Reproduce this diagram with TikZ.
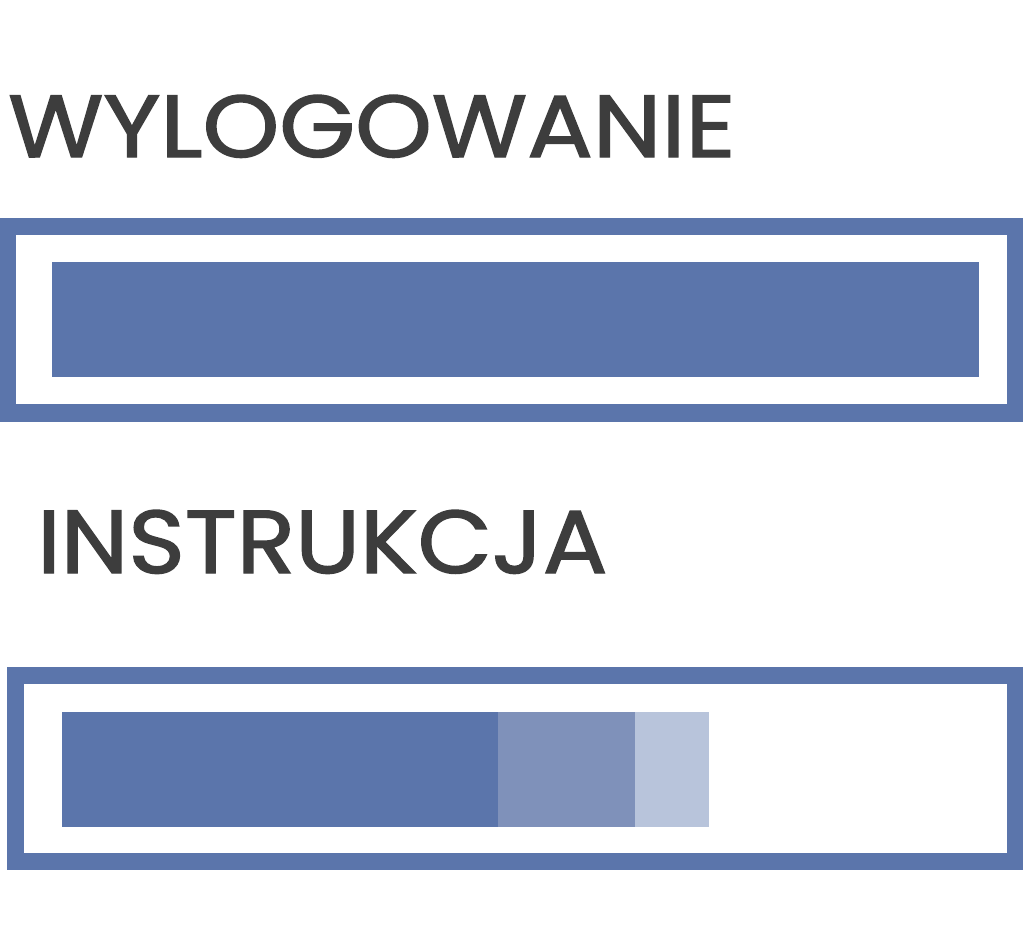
\documentclass[tikz,border=0pt]{standalone}
\usepackage{fontspec}
\setmainfont{Poppins}
\usepackage{graphicx}
\definecolor{barblue}{HTML}{5B75AB}
\definecolor{barmid}{HTML}{7F91BA}
\definecolor{barlight}{HTML}{B8C4DB}
\definecolor{txtgray}{HTML}{3D3D3D}
\begin{document}
\begin{tikzpicture}[x=1pt,y=-1pt,
  frame/.style={draw=none,fill=barblue},
  hole/.style={draw=none,fill=white},
  title/.style={inner sep=0pt,anchor=base west,text=txtgray,font=\addfontfeature{FakeBold=1.6}}]
\useasboundingbox (0,0) rectangle (1023,927);
\fill[white] (0,0) rectangle (1023,927);
% titles
\node[title] (t1) at (8,157) {\resizebox{727pt}{62pt}{WYLOGOWANIE}};
\node[title] (t2) at (37,573) {\resizebox{570pt}{63pt}{INSTRUKCJA}};
% box 1
\path[frame] (0,218) rectangle (1023,422);
\path[hole] (16,235) rectangle (1007,404);
\path[fill=barblue] (52,262) rectangle (979,377);
% box 2
\path[frame] (7,667) rectangle (1023,870);
\path[hole] (24,684) rectangle (1007,853);
\path[fill=barblue] (62,712) rectangle (498,827);
\path[fill=barmid] (498,712) rectangle (635,827);
\path[fill=barlight] (635,712) rectangle (709,827);
\end{tikzpicture}
\end{document}
